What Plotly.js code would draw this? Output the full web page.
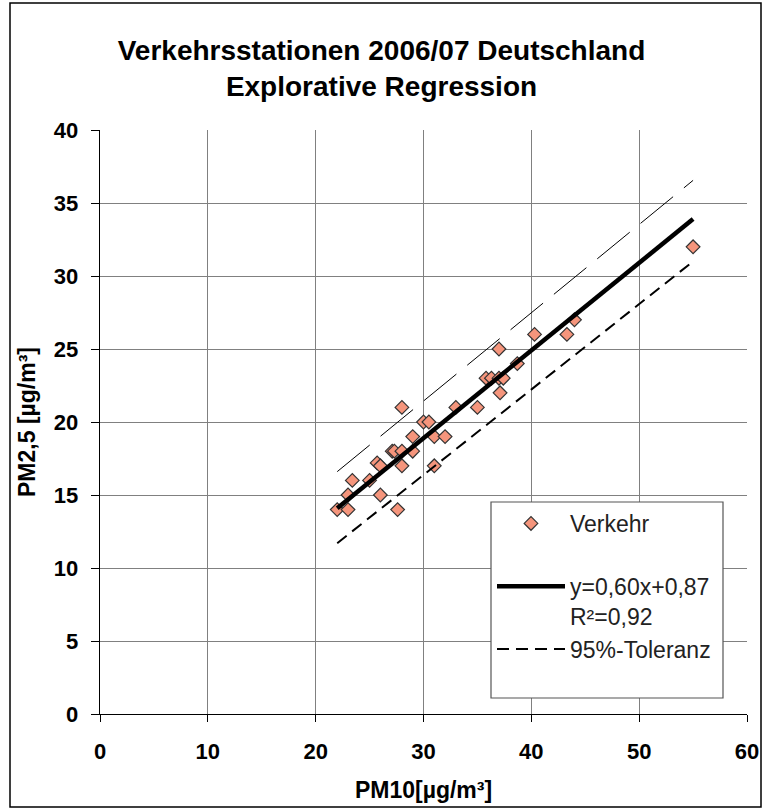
<!DOCTYPE html>
<html>
<head>
<meta charset="utf-8">
<script src="https://cdn.plot.ly/plotly-3.0.1.min.js"></script>
<style>html,body{margin:0;padding:0;background:#fff;}#chart{width:763px;height:809px;}</style>
</head>
<body>
<div id="chart"></div>
<script>
// PM10 / PM2.5 annual means at traffic stations
const pm10 = [22, 23, 23, 23.4, 25, 25.7, 26, 26, 27.1, 27.3, 27.6, 28, 28, 28, 29, 29, 30, 30.5, 31, 31, 32, 33, 35, 35.8, 36.3, 37, 37, 37.1, 37.4, 38.7, 40.3, 43.3, 44, 55];
const pm25 = [14, 14, 15, 16, 16, 17.2, 17, 15, 18, 18, 14, 21, 18, 17, 19, 18, 20, 20, 19, 17, 19, 21, 21, 23, 23, 23, 25, 22, 23, 24, 26, 26, 27, 32];

// regression line and 95% tolerance lines (end points)
const regX = [22, 55];
const regY = [14.1, 33.9];
const tolX = [22, 55];
const tolUpperY = [16.6, 36.55];
const tolLowerY = [11.7, 31.0];

const seriesName = 'Verkehr<br> ';
const regName = 'y=0,60x+0,87<br>R²=0,92';
const tolName = '95%-Toleranz';

const xTickVals = [0, 10, 20, 30, 40, 50, 60];
const yTickVals = [0, 5, 10, 15, 20, 25, 30, 35, 40];

const FONT = 'Liberation Sans, Arial, sans-serif';

const traces = [
  {
    x: pm10, y: pm25, type: 'scatter', mode: 'markers', name: seriesName,
    legendgroup: 'a',
    marker: {symbol: 'diamond', size: 10.5, color: '#F5957C', line: {color: '#333333', width: 1.2}}
  },
  {
    x: tolX, y: tolUpperY, type: 'scatter', mode: 'lines', showlegend: false,
    line: {color: '#000', width: 1, dash: '42px,14px'}
  },
  {
    x: regX, y: regY, type: 'scatter', mode: 'lines', name: regName,
    legendgroup: 'b',
    line: {color: '#000', width: 4.5}
  },
  {
    x: tolX, y: tolLowerY, type: 'scatter', mode: 'lines', name: tolName,
    legendgroup: 'c',
    line: {color: '#000', width: 2, dash: '12px,7px'}
  }
];

// plot-area pixel geometry helpers (layout only)
const PL = 100, PW = 647, PB = 714, PH = 584;
const px2x = p => (p - PL) / PW;
const px2y = p => (PB - p) / PH;

const layout = {
  width: 763, height: 809,
  margin: {l: 100, r: 16, t: 130, b: 95},
  paper_bgcolor: '#fff', plot_bgcolor: '#fff',
  font: {family: FONT, color: '#000'},
  title: {
    text: '<b>Verkehrsstationen 2006/07 Deutschland<br>Explorative Regression</b>',
    font: {family: FONT, size: 28, color: '#000'},
    x: 0.5, xanchor: 'center', y: 0.926, yanchor: 'top'
  },
  xaxis: {
    range: [0, 60], tickvals: xTickVals, ticktext: xTickVals.map(String),
    showgrid: true, gridcolor: '#808080', gridwidth: 1,
    showline: true, linecolor: '#000', linewidth: 1.3,
    ticks: 'outside', ticklen: 7, tickcolor: '#000', tickwidth: 1,
    ticklabelstandoff: 10,
    zeroline: false,
    tickfont: {family: FONT, size: 22, color: '#000', weight: 'bold'},
    title: {text: '<b>PM10[µg/m³]</b>', font: {family: FONT, size: 23, color: '#000'}, standoff: 19}
  },
  yaxis: {
    range: [0, 40], tickvals: yTickVals, ticktext: yTickVals.map(String),
    showgrid: true, gridcolor: '#808080', gridwidth: 1,
    showline: true, linecolor: '#000', linewidth: 1.3,
    ticks: 'outside', ticklen: 8, tickcolor: '#000', tickwidth: 1,
    ticklabelstandoff: 8,
    zeroline: false,
    tickfont: {family: FONT, size: 22, color: '#000', weight: 'bold'},
    title: {text: '<b>PM2,5 [µg/m³]</b>', font: {family: FONT, size: 23, color: '#000'}, standoff: 11}
  },
  legend: {
    x: px2x(492), y: px2y(502), xanchor: 'left', yanchor: 'top',
    bgcolor: 'rgba(0,0,0,0)', borderwidth: 0,
    font: {family: FONT, size: 23, color: '#222'},
    itemwidth: 68, tracegroupgap: 0, traceorder: 'grouped', valign: 'top'
  },
  shapes: [
    {type: 'rect', xref: 'paper', yref: 'paper',
     x0: px2x(10), x1: px2x(761), y0: px2y(807), y1: px2y(3),
     line: {color: '#000', width: 1.5}, fillcolor: 'rgba(0,0,0,0)', layer: 'below'},
    {type: 'rect', xref: 'paper', yref: 'paper',
     x0: px2x(491), x1: px2x(723), y0: px2y(698), y1: px2y(502),
     line: {color: '#555', width: 1.2}, fillcolor: '#fff', layer: 'above'}
  ],
  showlegend: true
};

Plotly.newPlot('chart', traces, layout, {displayModeBar: false, staticPlot: true});
</script>
</body>
</html>
